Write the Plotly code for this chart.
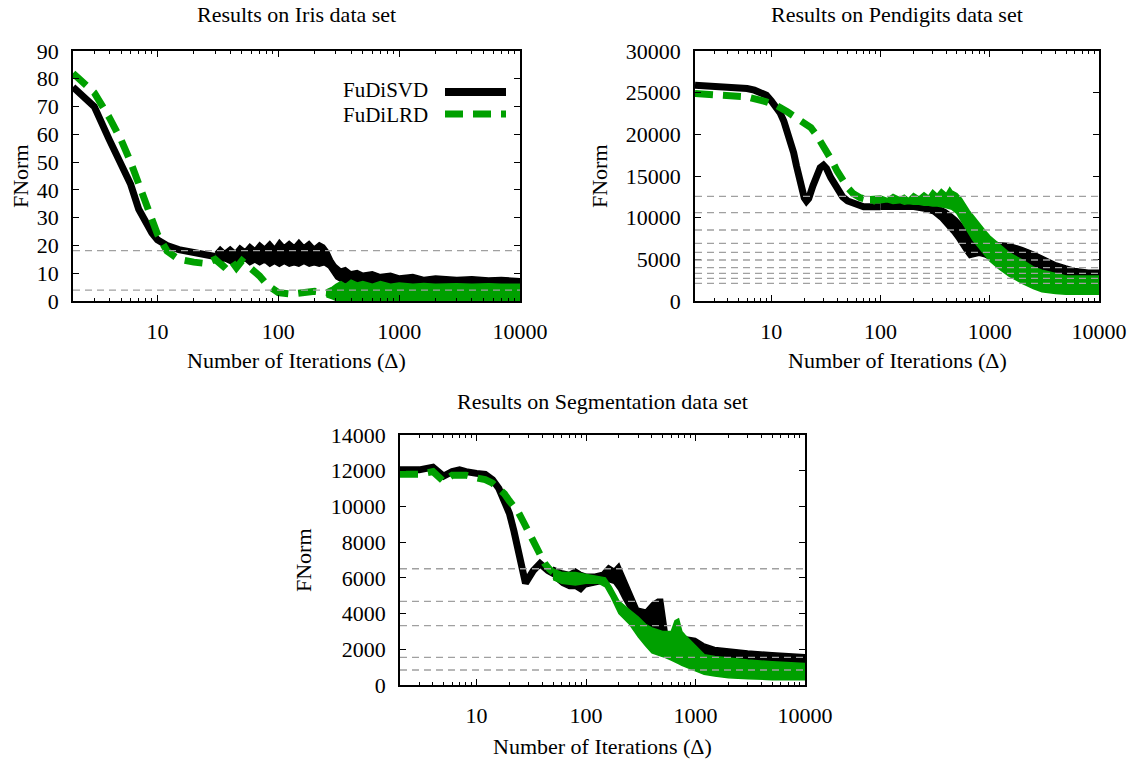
import plotly.graph_objects as go

# ---------------- data ----------------
x_tick_vals = [10, 100, 1000, 10000]
x_tick_text = ["10", "100", "1000", "10000"]

# Iris
iris_svd_x = [2, 3, 4, 5, 6, 7, 8, 9, 10, 12, 15, 20, 25, 30]
iris_svd_y = [77, 70, 58, 49, 42, 33, 28, 24.5, 22, 20, 18.5, 17.5, 16.5, 16]
iris_svd_band_x = [30, 33, 36, 40, 44, 48, 53, 58, 64, 70, 77, 85, 93, 102, 112, 123, 135, 148, 163, 180,
                   198, 218, 240, 260, 280, 300, 330, 360, 400, 450, 500, 600, 700, 850, 1000, 1300, 1600,
                   2000, 3000, 4000, 5500, 7000, 10000]
iris_svd_band_hi = [17.5, 19.5, 18, 19.5, 18, 20, 18.5, 20.5, 19, 21, 19.5, 21.5, 19.5, 22, 20, 21.5, 20, 22,
                    20, 21.5, 19.5, 21, 20, 18, 15, 13, 11.5, 12, 10.5, 11, 10, 10.5, 9.5, 10, 9, 9.5, 8.5,
                    9, 8.5, 8.7, 8.3, 8.5, 8]
iris_svd_band_lo = [14.5, 14, 14.5, 13.5, 14, 13.5, 14.5, 13, 14, 13, 14, 12.5, 13.5, 12.5, 13.5, 12.5, 13,
                    12.5, 13.5, 12.5, 13, 12.5, 13, 12, 10, 8, 7, 6.5, 6, 6, 5.8, 5.8, 5.5, 5.5, 5.5, 5.5,
                    5.5, 5.5, 5.5, 5.5, 5.5, 5.5, 5]
iris_lrd_x = [2, 3, 4, 5, 6, 7, 8, 9, 10, 12, 15, 20, 25, 30, 35, 40, 45, 50, 55, 60, 70, 80, 90, 100, 130,
              160, 200, 250, 300]
iris_lrd_y = [82, 75, 66, 58, 50, 42, 35, 29, 24, 18, 15, 14, 13.5, 15, 12.5, 15, 12, 14.5, 13, 11, 9, 6,
              4.5, 3, 2.5, 2.8, 3.5, 3, 2.5]
iris_lrd_band_x = [250, 280, 300, 330, 360, 400, 450, 500, 600, 700, 850, 1000, 1300, 1600, 2000, 3000,
                   4000, 5500, 7000, 10000]
iris_lrd_band_hi = [4, 5, 6, 7, 6, 7.5, 6.5, 7, 6, 7, 6, 6.5, 6, 6.3, 6, 6.2, 6, 6.2, 6, 6]
iris_lrd_band_lo = [1.5, 0.8, 0.2, 0, 0, 0, 0, 0, 0, 0, 0, 0, 0, 0, 0, 0, 0, 0, 0, 0]
iris_ref_levels = [18.1, 3.9]

# Pendigits
pen_svd_x = [2, 3, 4, 5, 6, 7, 8, 9, 10, 11, 12, 13, 14, 15, 16, 17, 18, 19, 20, 21, 22, 24, 26, 28, 30,
             32, 35, 40, 45, 50, 60, 70, 80, 90, 100]
pen_svd_y = [25900, 25800, 25700, 25600, 25500, 25300, 25000, 24700, 24000, 23400, 22600, 21600, 20400,
             19200, 17800, 16200, 14700, 13400, 12400, 12000, 12300, 13800, 15200, 16000, 16300, 15900,
             14800, 13400, 12500, 12000, 11500, 11300, 11300, 11300, 11300]
pen_svd_band_x = [100, 150, 200, 250, 300, 350, 400, 450, 500, 550, 600, 650, 700, 800, 900, 1000, 1200,
                  1500, 2000, 2500, 3000, 4000, 5000, 6000, 8000, 10000]
pen_svd_band_hi = [11800, 11900, 12000, 11800, 11600, 11300, 10900, 10400, 9900, 9300, 8600, 8000, 7800,
                   7500, 7300, 7200, 7000, 6900, 6400, 5900, 5400, 4600, 4200, 3900, 3700, 3700]
pen_svd_band_lo = [11000, 11000, 11000, 10800, 10500, 9800, 9000, 8200, 7400, 6600, 5800, 5200, 5300,
                   5500, 5300, 5000, 4800, 4500, 4100, 3700, 3400, 3200, 3100, 3000, 3000, 3000]
pen_lrd_x = [2, 4, 6, 9, 11, 14, 17, 20, 23, 26, 29, 32, 36, 40, 45, 50, 56, 65, 80, 90]
pen_lrd_y = [24900, 24700, 24500, 23900, 23500, 22700, 21900, 21300, 20800, 19900, 18900, 18100, 16800,
             15600, 14500, 13600, 12900, 12400, 12100, 12000]
pen_lrd_band_x = [80, 100, 115, 130, 150, 165, 180, 200, 225, 250, 275, 300, 330, 360, 400, 430, 450, 500,
                  550, 600, 650, 700, 800, 900, 1000, 1200, 1500, 2000, 2500, 3000, 4000, 5000, 7000, 10000]
pen_lrd_band_hi = [12500, 12600, 12300, 12800, 12400, 12700, 12300, 12900, 12500, 13000, 12600, 13300,
                   12800, 13400, 12900, 13600, 13200, 12900, 12300, 11500, 10800, 10300, 9300, 8500, 7800,
                   6900, 5800, 4900, 4100, 3700, 3300, 3000, 3000, 3000]
pen_lrd_band_lo = [11800, 11800, 11900, 11700, 11800, 11600, 11700, 11600, 11600, 11500, 11500, 11400,
                   11400, 11300, 11200, 11100, 11000, 10500, 9700, 8800, 8000, 7300, 6300, 5500, 4800,
                   3900, 3000, 2100, 1500, 1100, 900, 800, 800, 800]
pen_ref_levels = [12560, 10600, 8520, 6920, 5840, 4920, 4000, 3320, 2720, 2120]

# Segmentation
seg_svd_x = [2, 3, 4, 5, 6, 7, 8, 9, 10, 12, 14, 16, 18, 20, 22, 24, 26, 28, 30, 33, 38, 45, 52]
seg_svd_y = [12050, 12050, 12200, 11700, 11950, 12050, 11950, 11850, 11850, 11800, 11500, 11000, 10300,
             9600, 8600, 7500, 6500, 5700, 6000, 6400, 6800, 6400, 6200]
seg_svd_band_x = [50, 60, 70, 80, 90, 100, 120, 140, 160, 180, 200, 220, 250, 280, 300, 350, 400, 450, 500,
                  550, 600, 700, 800, 1000, 1200, 1500, 2000, 3000, 5000, 10000]
seg_svd_band_hi = [6600, 6400, 6300, 6500, 6300, 6200, 6200, 6300, 6700, 6500, 6800, 6200, 5500, 4700,
                   4300, 4200, 4600, 4800, 4800, 3000, 2800, 2800, 2700, 2600, 2300, 2100, 2000, 1900,
                   1800, 1700]
seg_svd_band_lo = [6000, 5600, 5400, 5400, 5200, 5500, 5600, 5700, 5800, 5700, 5300, 4800, 4200, 3800,
                   3500, 3300, 3200, 3000, 2900, 2700, 2500, 2300, 2100, 2000, 1700, 1500, 1400, 1300,
                   1200, 1100]
seg_lrd_x = [2, 3, 4, 5, 6, 7, 8, 10, 12, 14, 16, 18, 20, 22, 24, 27, 30, 34, 38, 42, 46, 50]
seg_lrd_y = [11800, 11800, 11950, 11400, 11750, 11800, 11750, 11600, 11500, 11300, 11000, 10700, 10300,
             10000, 9700, 9100, 8500, 7800, 7200, 6800, 6500, 6300]
seg_lrd_band_x = [50, 60, 80, 100, 130, 150, 170, 200, 250, 300, 350, 400, 500, 600, 650, 700, 750, 800,
                  1000, 1200, 1500, 2000, 3000, 5000, 10000]
seg_lrd_band_hi = [6500, 6300, 6300, 6200, 6100, 6000, 5500, 4700, 4200, 3800, 3400, 3200, 3000, 3000,
                   3600, 3700, 3000, 2800, 2200, 1700, 1600, 1500, 1400, 1300, 1200]
seg_lrd_band_lo = [5900, 5700, 5600, 5700, 5700, 5500, 4900, 4000, 3400, 2700, 2200, 1800, 1600, 1400,
                   1300, 1200, 1100, 1000, 800, 600, 500, 400, 350, 300, 300]
seg_ref_levels = [6510, 4680, 3330, 1550, 840]

# ---------------- style ----------------
W, H = 1139, 761
FONT = "Liberation Serif"
FS = 22
BLACK = "#000000"
GREEN = "#00A000"
GREY = "#A0A0A0"
GREEN_DASH = "18px,10px"

fig = go.Figure()


def add_series(ax, sx, sy, bx, lo, hi, color, dash):
    xa, ya = ("x" + ax, "y" + ax) if ax else ("x", "y")
    fig.add_trace(go.Scatter(x=sx, y=sy, mode="lines", xaxis=xa, yaxis=ya,
                             line=dict(color=color, width=7, dash=dash),
                             showlegend=False, hoverinfo="skip"))
    fig.add_trace(go.Scatter(x=bx + bx[::-1], y=hi + lo[::-1], mode="lines",
                             xaxis=xa, yaxis=ya, fill="toself", fillcolor=color,
                             line=dict(color=color, width=1.5),
                             showlegend=False, hoverinfo="skip"))


add_series("", iris_svd_x, iris_svd_y, iris_svd_band_x, iris_svd_band_lo, iris_svd_band_hi, BLACK, "solid")
add_series("", iris_lrd_x, iris_lrd_y, iris_lrd_band_x, iris_lrd_band_lo, iris_lrd_band_hi, GREEN, GREEN_DASH)
add_series("2", pen_svd_x, pen_svd_y, pen_svd_band_x, pen_svd_band_lo, pen_svd_band_hi, BLACK, "solid")
add_series("2", pen_lrd_x, pen_lrd_y, pen_lrd_band_x, pen_lrd_band_lo, pen_lrd_band_hi, GREEN, GREEN_DASH)
add_series("3", seg_svd_x, seg_svd_y, seg_svd_band_x, seg_svd_band_lo, seg_svd_band_hi, BLACK, "solid")
add_series("3", seg_lrd_x, seg_lrd_y, seg_lrd_band_x, seg_lrd_band_lo, seg_lrd_band_hi, GREEN, GREEN_DASH)

minor_vals = [m * 10 ** k for k in range(0, 4) for m in range(2, 10)]


def xaxis(domain, anchor):
    return dict(type="log", domain=domain, anchor=anchor, automargin=False,
                range=[0.30103, 4.0],
                tickmode="array", tickvals=x_tick_vals, ticktext=x_tick_text,
                ticks="inside", ticklen=6, tickwidth=1, tickcolor="black",
                minor=dict(tickmode="array", tickvals=minor_vals, ticks="inside",
                           ticklen=3, tickwidth=1, tickcolor="black", showgrid=False),
                showline=True, linecolor="black", linewidth=1.5, mirror="ticks",
                showgrid=False, zeroline=False, ticklabelstandoff=10,
                tickfont=dict(family=FONT, size=FS, color="black"))


def yaxis(domain, anchor, rng, dtick):
    return dict(domain=domain, anchor=anchor, automargin=False, range=rng,
                dtick=dtick, tick0=0, tickformat="d", ticks="inside", ticklen=6,
                tickwidth=1, tickcolor="black", showline=True, linecolor="black",
                linewidth=1.5, mirror="ticks", showgrid=False, zeroline=False,
                ticklabelstandoff=8,
                tickfont=dict(family=FONT, size=FS, color="black"))


dom_iris_x = [73 / W, 520 / W]
dom_pen_x = [695 / W, 1099 / W]
dom_seg_x = [400 / W, 805 / W]
dom_top_y = [1 - 301 / H, 1 - 51 / H]
dom_bot_y = [1 - 685 / H, 1 - 435 / H]

fig.update_layout(
    width=W, height=H, margin=dict(l=0, r=0, t=0, b=0, autoexpand=False),
    paper_bgcolor="white", plot_bgcolor="white", showlegend=False,
    font=dict(family=FONT, size=FS, color="black"),
    xaxis=xaxis(dom_iris_x, "y"), yaxis=yaxis(dom_top_y, "x", [0, 90], 10),
    xaxis2=xaxis(dom_pen_x, "y2"), yaxis2=yaxis(dom_top_y, "x2", [0, 30000], 5000),
    xaxis3=xaxis(dom_seg_x, "y3"), yaxis3=yaxis(dom_bot_y, "x3", [0, 14000], 2000),
)

# dashed reference levels
for ax, levels in (("", iris_ref_levels), ("2", pen_ref_levels), ("3", seg_ref_levels)):
    for lv in levels:
        fig.add_shape(type="line", xref=("x" + ax if ax else "x") + " domain",
                      yref="y" + ax if ax else "y", x0=0, x1=1, y0=lv, y1=lv,
                      line=dict(color=GREY, width=1.3, dash="7px,5px"), layer="above")


def px(x):
    return x / W


def py(y):
    return 1 - y / H


def text(x, y, s, angle=0, xanchor="center", size=FS):
    fig.add_annotation(x=px(x), y=py(y), xref="paper", yref="paper", text=s,
                       showarrow=False, textangle=angle, xanchor=xanchor,
                       yanchor="middle", borderpad=0,
                       font=dict(family=FONT, size=size, color="black"))


# titles
text(296.5, 15, "Results on Iris data set")
text(897, 15, "Results on Pendigits data set")
text(602.5, 401, "Results on Segmentation data set")
# axis titles
text(296.5, 360, "Number of Iterations (\u0394)")
text(897, 360, "Number of Iterations (\u0394)")
text(602.5, 746, "Number of Iterations (\u0394)")
text(20, 176, "FNorm", angle=-90)
text(599, 176, "FNorm", angle=-90)
text(303, 560, "FNorm", angle=-90)

# key inside the Iris panel
text(429, 90, "FuDiSVD", xanchor="right", size=21)
text(429, 115, "FuDiLRD", xanchor="right", size=21)
fig.add_shape(type="line", xref="paper", yref="paper", x0=px(445), x1=px(506),
              y0=py(92), y1=py(92), line=dict(color=BLACK, width=8))
fig.add_shape(type="line", xref="paper", yref="paper", x0=px(445), x1=px(506),
              y0=py(114), y1=py(114), line=dict(color=GREEN, width=7, dash=GREEN_DASH))

fig.write_html("out.html")
